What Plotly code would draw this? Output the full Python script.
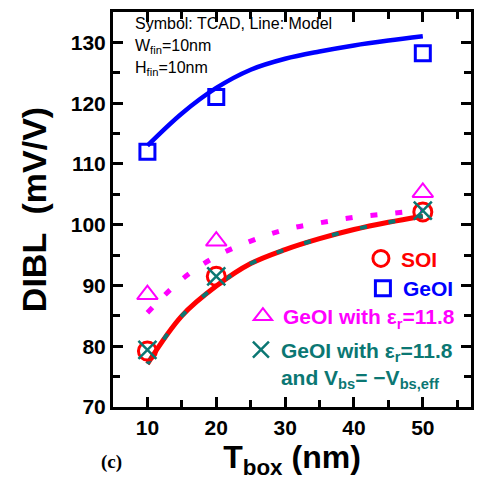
import plotly.graph_objects as go

# ---- data ----
x_sym = [10, 20, 50]
soi_sym = [79.2, 91.5, 102.1]
geoi_sym = [112.0, 121.0, 128.2]
geoi_er_sym = [88.5, 97.3, 105.3]
geoi_er_vbs_sym = [79.4, 91.5, 102.3]

x_model = [10, 15, 20, 25, 30, 35, 40, 45, 50]
soi_model = [77.1, 85.0, 89.9, 93.6, 95.9, 97.7, 99.2, 100.4, 101.4]
geoi_model = [113.0, 118.3, 122.5, 125.5, 127.3, 128.5, 129.5, 130.3, 131.0]
geoi_er_model = [85.5, 91.0, 94.8, 97.3, 99.2, 100.3, 101.2, 101.8, 102.4]
geoi_er_vbs_model = [77.1, 85.0, 89.9, 93.6, 95.9, 97.7, 99.2, 100.4, 101.4]

x_ticks = [10, 20, 30, 40, 50]
y_ticks = [70, 80, 90, 100, 110, 120, 130]

RED = "#ff0000"
BLUE = "#0000ff"
MAG = "#ff00ff"
TEAL = "#0b7773"
FONT = "Liberation Sans, Arial, sans-serif"

W, H = 483, 490
ML, MR, MT, MB = 113, 9, 10, 83
PW = W - ML - MR
PH = H - MT - MB


def px2paper(px, py):
    return (px - ML) / PW, (H - MB - py) / PH


fig = go.Figure()

# model lines
fig.add_trace(go.Scatter(x=x_model, y=geoi_model, mode="lines", line=dict(color=BLUE, width=4.5, shape="spline"),
                         showlegend=False, hoverinfo="skip"))
fig.add_trace(go.Scatter(x=x_model, y=soi_model, mode="lines", line=dict(color=RED, width=5, shape="spline"),
                         showlegend=False, hoverinfo="skip"))
fig.add_trace(go.Scatter(x=x_model, y=geoi_er_vbs_model, mode="lines",
                         line=dict(color=TEAL, width=4, dash="7px,22px", shape="spline"),
                         showlegend=False, hoverinfo="skip"))
fig.add_trace(go.Scatter(x=x_model, y=geoi_er_model, mode="lines",
                         line=dict(color=MAG, width=5, dash="7px,18px", shape="spline"),
                         showlegend=False, hoverinfo="skip"))

# TCAD symbols
fig.add_trace(go.Scatter(x=x_sym, y=soi_sym, mode="markers", name="SOI",
                         marker=dict(symbol="circle-open", size=18, color=RED, line=dict(width=3, color=RED)),
                         legend="legend"))
fig.add_trace(go.Scatter(x=x_sym, y=geoi_sym, mode="markers", name="GeOI",
                         marker=dict(symbol="square-open", size=15, color=BLUE, line=dict(width=3, color=BLUE)),
                         legend="legend2"))
fig.add_trace(go.Scatter(x=x_sym, y=geoi_er_sym, mode="markers", name="GeOI with ε<sub>r</sub>=11.8",
                         marker=dict(symbol="triangle-up-open", size=18, color=MAG, line=dict(width=2, color=MAG)),
                         legend="legend3"))
fig.add_trace(go.Scatter(x=x_sym, y=geoi_er_vbs_sym, mode="markers",
                         name="GeOI with ε<sub>r</sub>=11.8<br>and V<sub>bs</sub>= −V<sub>bs,eff</sub>",
                         marker=dict(symbol="x-thin-open", size=18, color=TEAL, line=dict(width=2.5, color=TEAL)),
                         legend="legend4"))

axis_common = dict(
    showline=True, linecolor="black", linewidth=3, mirror="ticks",
    ticks="inside", ticklen=10, tickwidth=2.5, tickcolor="black",
    showgrid=False, zeroline=False,
    tickfont=dict(family=FONT, size=21, color="black", weight="bold"),
)

fig.update_xaxes(range=[5, 57], tickvals=x_ticks,
                 minor=dict(dtick=5, tick0=5, ticks="inside", ticklen=7, tickwidth=2.5, tickcolor="black"),
                 title=dict(text="T<sub>box</sub> (nm)", font=dict(family=FONT, size=32, color="black", weight="bold"),
                            standoff=6),
                 **axis_common)
fig.update_yaxes(range=[70, 135], tickvals=y_ticks,
                 minor=dict(dtick=5, tick0=70, ticks="inside", ticklen=7, tickwidth=2.5, tickcolor="black"),
                 title=dict(text="DIBL  (mV/V)", font=dict(family=FONT, size=34, color="black", weight="bold"),
                            standoff=14),
                 **axis_common)


def leg(px, py, color, anchor="middle"):
    lx, ly = px2paper(px - 20, py)
    return dict(x=lx, y=ly, xanchor="left", yanchor=anchor, bgcolor="rgba(0,0,0,0)",
                font=dict(family=FONT, size=21, color=color, weight="bold"),
                itemclick=False, itemdoubleclick=False, valign="top")


l1 = leg(383, 258, RED)
l2 = leg(385, 288, BLUE)
l3 = leg(264, 316, MAG)
l4 = leg(262, 329, TEAL, anchor="top")

fig.update_layout(
    width=W, height=H, margin=dict(l=ML, r=MR, t=MT, b=MB),
    paper_bgcolor="white", plot_bgcolor="white",
    legend=l1, legend2=l2, legend3=l3, legend4=l4,
)

# header text
for txt, py in [("Symbol: TCAD, Line: Model", 22), ("W<sub>fin</sub>=10nm", 45), ("H<sub>fin</sub>=10nm", 67)]:
    ax, ay = px2paper(133, py)
    fig.add_annotation(x=ax, y=ay, xref="paper", yref="paper", text=txt, showarrow=False,
                       xanchor="left", yanchor="middle", font=dict(family=FONT, size=16, color="black"))

cx, cy = px2paper(111, 462)
fig.add_annotation(x=cx, y=cy, xref="paper", yref="paper", text="(c)", showarrow=False,
                   xanchor="center", yanchor="middle",
                   font=dict(family="Liberation Serif, Times New Roman, serif", size=19, color="black", weight="bold"))

fig.write_html("out.html")
